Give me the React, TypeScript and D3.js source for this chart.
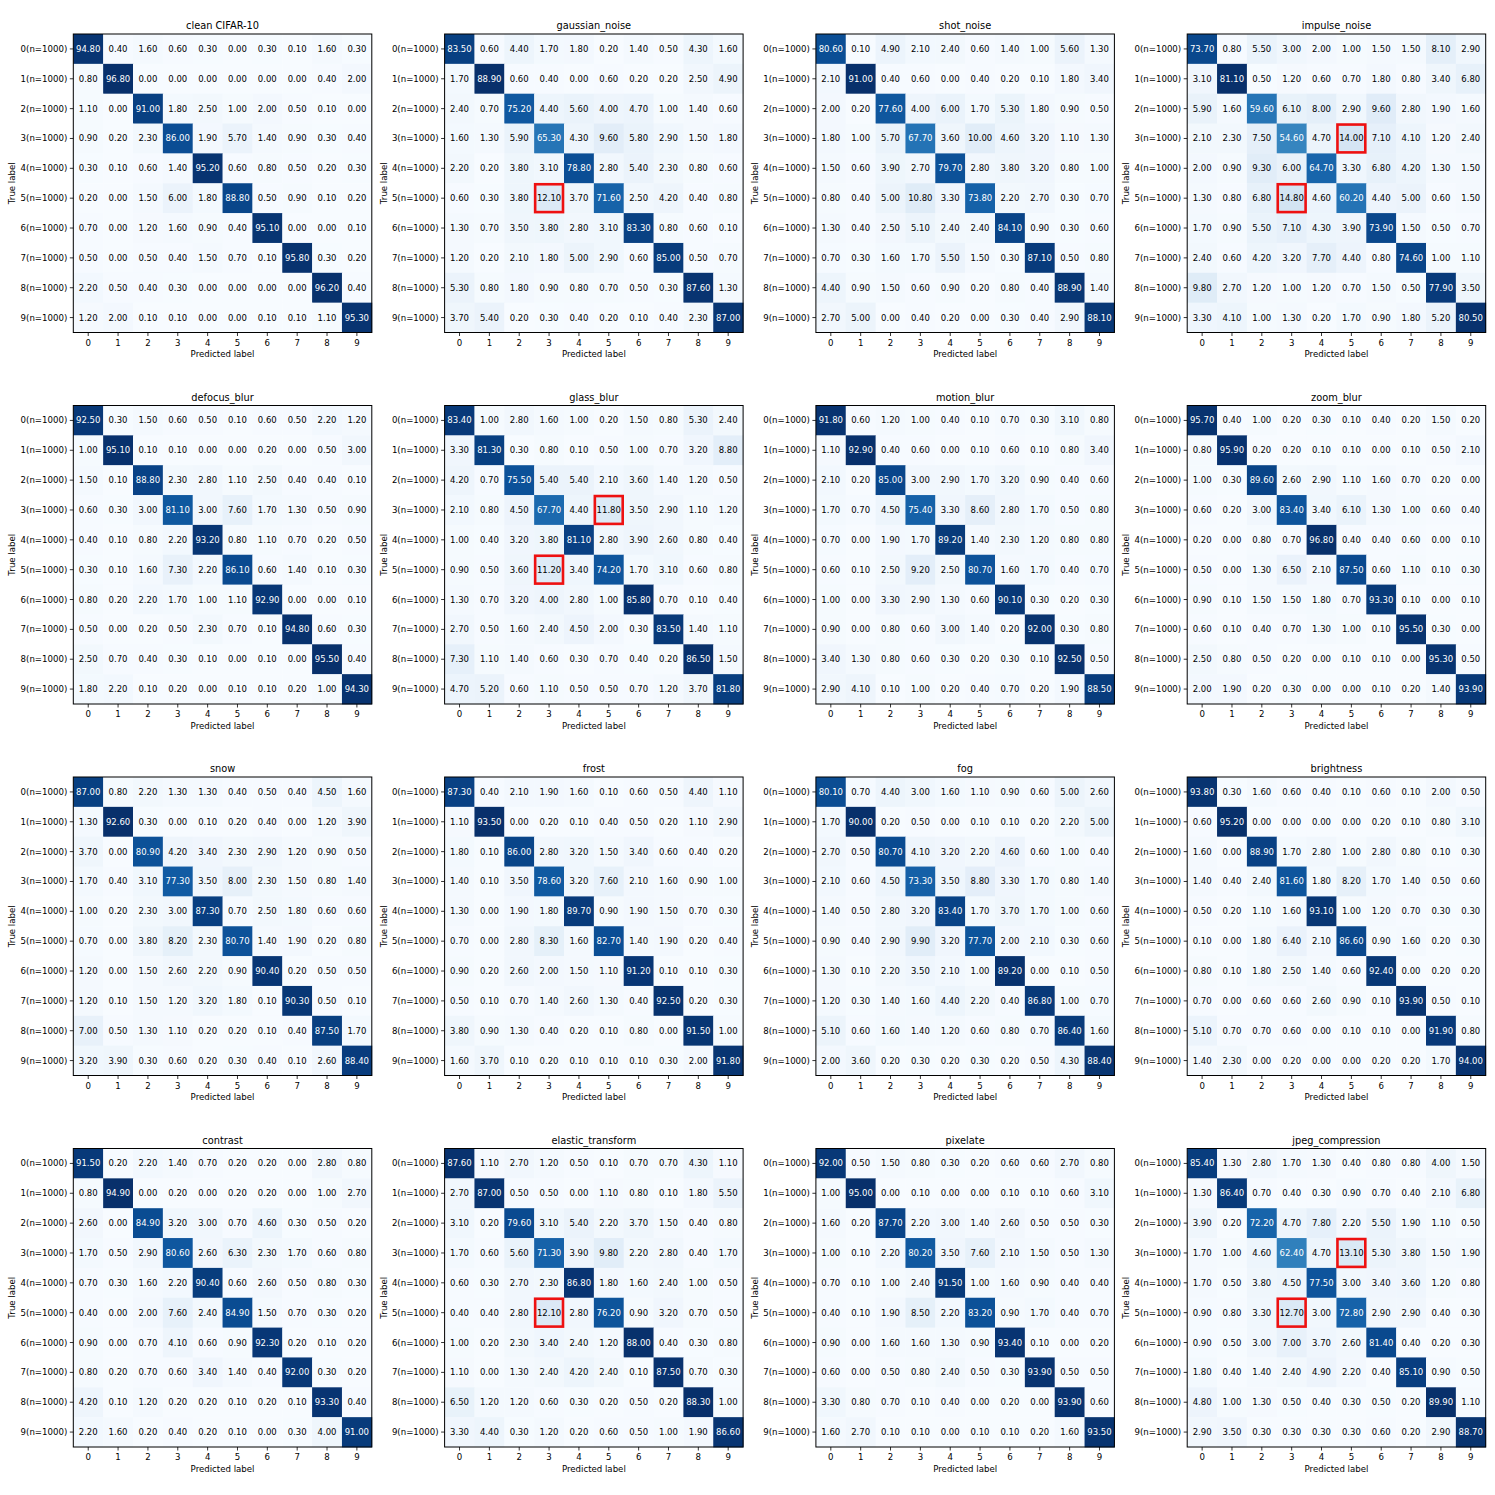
import * as d3 from "d3";

// ---- data: per-class accuracy (%) confusion matrices, rows = true label ----
const classes = ["0", "1", "2", "3", "4", "5", "6", "7", "8", "9"];
const rowLabels = classes.map(c => `${c}(n=1000)`);

const cleanCifar10 = [
  [94.8, 0.4, 1.6, 0.6, 0.3, 0.0, 0.3, 0.1, 1.6, 0.3],
  [0.8, 96.8, 0.0, 0.0, 0.0, 0.0, 0.0, 0.0, 0.4, 2.0],
  [1.1, 0.0, 91.0, 1.8, 2.5, 1.0, 2.0, 0.5, 0.1, 0.0],
  [0.9, 0.2, 2.3, 86.0, 1.9, 5.7, 1.4, 0.9, 0.3, 0.4],
  [0.3, 0.1, 0.6, 1.4, 95.2, 0.6, 0.8, 0.5, 0.2, 0.3],
  [0.2, 0.0, 1.5, 6.0, 1.8, 88.8, 0.5, 0.9, 0.1, 0.2],
  [0.7, 0.0, 1.2, 1.6, 0.9, 0.4, 95.1, 0.0, 0.0, 0.1],
  [0.5, 0.0, 0.5, 0.4, 1.5, 0.7, 0.1, 95.8, 0.3, 0.2],
  [2.2, 0.5, 0.4, 0.3, 0.0, 0.0, 0.0, 0.0, 96.2, 0.4],
  [1.2, 2.0, 0.1, 0.1, 0.0, 0.0, 0.1, 0.1, 1.1, 95.3],
];
const gaussianNoise = [
  [83.5, 0.6, 4.4, 1.7, 1.8, 0.2, 1.4, 0.5, 4.3, 1.6],
  [1.7, 88.9, 0.6, 0.4, 0.0, 0.6, 0.2, 0.2, 2.5, 4.9],
  [2.4, 0.7, 75.2, 4.4, 5.6, 4.0, 4.7, 1.0, 1.4, 0.6],
  [1.6, 1.3, 5.9, 65.3, 4.3, 9.6, 5.8, 2.9, 1.5, 1.8],
  [2.2, 0.2, 3.8, 3.1, 78.8, 2.8, 5.4, 2.3, 0.8, 0.6],
  [0.6, 0.3, 3.8, 12.1, 3.7, 71.6, 2.5, 4.2, 0.4, 0.8],
  [1.3, 0.7, 3.5, 3.8, 2.8, 3.1, 83.3, 0.8, 0.6, 0.1],
  [1.2, 0.2, 2.1, 1.8, 5.0, 2.9, 0.6, 85.0, 0.5, 0.7],
  [5.3, 0.8, 1.8, 0.9, 0.8, 0.7, 0.5, 0.3, 87.6, 1.3],
  [3.7, 5.4, 0.2, 0.3, 0.4, 0.2, 0.1, 0.4, 2.3, 87.0],
];
const shotNoise = [
  [80.6, 0.1, 4.9, 2.1, 2.4, 0.6, 1.4, 1.0, 5.6, 1.3],
  [2.1, 91.0, 0.4, 0.6, 0.0, 0.4, 0.2, 0.1, 1.8, 3.4],
  [2.0, 0.2, 77.6, 4.0, 6.0, 1.7, 5.3, 1.8, 0.9, 0.5],
  [1.8, 1.0, 5.7, 67.7, 3.6, 10.0, 4.6, 3.2, 1.1, 1.3],
  [1.5, 0.6, 3.9, 2.7, 79.7, 2.8, 3.8, 3.2, 0.8, 1.0],
  [0.8, 0.4, 5.0, 10.8, 3.3, 73.8, 2.2, 2.7, 0.3, 0.7],
  [1.3, 0.4, 2.5, 5.1, 2.4, 2.4, 84.1, 0.9, 0.3, 0.6],
  [0.7, 0.3, 1.6, 1.7, 5.5, 1.5, 0.3, 87.1, 0.5, 0.8],
  [4.4, 0.9, 1.5, 0.6, 0.9, 0.2, 0.8, 0.4, 88.9, 1.4],
  [2.7, 5.0, 0.0, 0.4, 0.2, 0.0, 0.3, 0.4, 2.9, 88.1],
];
const impulseNoise = [
  [73.7, 0.8, 5.5, 3.0, 2.0, 1.0, 1.5, 1.5, 8.1, 2.9],
  [3.1, 81.1, 0.5, 1.2, 0.6, 0.7, 1.8, 0.8, 3.4, 6.8],
  [5.9, 1.6, 59.6, 6.1, 8.0, 2.9, 9.6, 2.8, 1.9, 1.6],
  [2.1, 2.3, 7.5, 54.6, 4.7, 14.0, 7.1, 4.1, 1.2, 2.4],
  [2.0, 0.9, 9.3, 6.0, 64.7, 3.3, 6.8, 4.2, 1.3, 1.5],
  [1.3, 0.8, 6.8, 14.8, 4.6, 60.2, 4.4, 5.0, 0.6, 1.5],
  [1.7, 0.9, 5.5, 7.1, 4.3, 3.9, 73.9, 1.5, 0.5, 0.7],
  [2.4, 0.6, 4.2, 3.2, 7.7, 4.4, 0.8, 74.6, 1.0, 1.1],
  [9.8, 2.7, 1.2, 1.0, 1.2, 0.7, 1.5, 0.5, 77.9, 3.5],
  [3.3, 4.1, 1.0, 1.3, 0.2, 1.7, 0.9, 1.8, 5.2, 80.5],
];
const defocusBlur = [
  [92.5, 0.3, 1.5, 0.6, 0.5, 0.1, 0.6, 0.5, 2.2, 1.2],
  [1.0, 95.1, 0.1, 0.1, 0.0, 0.0, 0.2, 0.0, 0.5, 3.0],
  [1.5, 0.1, 88.8, 2.3, 2.8, 1.1, 2.5, 0.4, 0.4, 0.1],
  [0.6, 0.3, 3.0, 81.1, 3.0, 7.6, 1.7, 1.3, 0.5, 0.9],
  [0.4, 0.1, 0.8, 2.2, 93.2, 0.8, 1.1, 0.7, 0.2, 0.5],
  [0.3, 0.1, 1.6, 7.3, 2.2, 86.1, 0.6, 1.4, 0.1, 0.3],
  [0.8, 0.2, 2.2, 1.7, 1.0, 1.1, 92.9, 0.0, 0.0, 0.1],
  [0.5, 0.0, 0.2, 0.5, 2.3, 0.7, 0.1, 94.8, 0.6, 0.3],
  [2.5, 0.7, 0.4, 0.3, 0.1, 0.0, 0.1, 0.0, 95.5, 0.4],
  [1.8, 2.2, 0.1, 0.2, 0.0, 0.1, 0.1, 0.2, 1.0, 94.3],
];
const glassBlur = [
  [83.4, 1.0, 2.8, 1.6, 1.0, 0.2, 1.5, 0.8, 5.3, 2.4],
  [3.3, 81.3, 0.3, 0.8, 0.1, 0.5, 1.0, 0.7, 3.2, 8.8],
  [4.2, 0.7, 75.5, 5.4, 5.4, 2.1, 3.6, 1.4, 1.2, 0.5],
  [2.1, 0.8, 4.5, 67.7, 4.4, 11.8, 3.5, 2.9, 1.1, 1.2],
  [1.0, 0.4, 3.2, 3.8, 81.1, 2.8, 3.9, 2.6, 0.8, 0.4],
  [0.9, 0.5, 3.6, 11.2, 3.4, 74.2, 1.7, 3.1, 0.6, 0.8],
  [1.3, 0.7, 3.2, 4.0, 2.8, 1.0, 85.8, 0.7, 0.1, 0.4],
  [2.7, 0.5, 1.6, 2.4, 4.5, 2.0, 0.3, 83.5, 1.4, 1.1],
  [7.3, 1.1, 1.4, 0.6, 0.3, 0.7, 0.4, 0.2, 86.5, 1.5],
  [4.7, 5.2, 0.6, 1.1, 0.5, 0.5, 0.7, 1.2, 3.7, 81.8],
];
const motionBlur = [
  [91.8, 0.6, 1.2, 1.0, 0.4, 0.1, 0.7, 0.3, 3.1, 0.8],
  [1.1, 92.9, 0.4, 0.6, 0.0, 0.1, 0.6, 0.1, 0.8, 3.4],
  [2.1, 0.2, 85.0, 3.0, 2.9, 1.7, 3.2, 0.9, 0.4, 0.6],
  [1.7, 0.7, 4.5, 75.4, 3.3, 8.6, 2.8, 1.7, 0.5, 0.8],
  [0.7, 0.0, 1.9, 1.7, 89.2, 1.4, 2.3, 1.2, 0.8, 0.8],
  [0.6, 0.1, 2.5, 9.2, 2.5, 80.7, 1.6, 1.7, 0.4, 0.7],
  [1.0, 0.0, 3.3, 2.9, 1.3, 0.6, 90.1, 0.3, 0.2, 0.3],
  [0.9, 0.0, 0.8, 0.6, 3.0, 1.4, 0.2, 92.0, 0.3, 0.8],
  [3.4, 1.3, 0.8, 0.6, 0.3, 0.2, 0.3, 0.1, 92.5, 0.5],
  [2.9, 4.1, 0.1, 1.0, 0.2, 0.4, 0.7, 0.2, 1.9, 88.5],
];
const zoomBlur = [
  [95.7, 0.4, 1.0, 0.2, 0.3, 0.1, 0.4, 0.2, 1.5, 0.2],
  [0.8, 95.9, 0.2, 0.2, 0.1, 0.1, 0.0, 0.1, 0.5, 2.1],
  [1.0, 0.3, 89.6, 2.6, 2.9, 1.1, 1.6, 0.7, 0.2, 0.0],
  [0.6, 0.2, 3.0, 83.4, 3.4, 6.1, 1.3, 1.0, 0.6, 0.4],
  [0.2, 0.0, 0.8, 0.7, 96.8, 0.4, 0.4, 0.6, 0.0, 0.1],
  [0.5, 0.0, 1.3, 6.5, 2.1, 87.5, 0.6, 1.1, 0.1, 0.3],
  [0.9, 0.1, 1.5, 1.5, 1.8, 0.7, 93.3, 0.1, 0.0, 0.1],
  [0.6, 0.1, 0.4, 0.7, 1.3, 1.0, 0.1, 95.5, 0.3, 0.0],
  [2.5, 0.8, 0.5, 0.2, 0.0, 0.1, 0.1, 0.0, 95.3, 0.5],
  [2.0, 1.9, 0.2, 0.3, 0.0, 0.0, 0.1, 0.2, 1.4, 93.9],
];
const snow = [
  [87.0, 0.8, 2.2, 1.3, 1.3, 0.4, 0.5, 0.4, 4.5, 1.6],
  [1.3, 92.6, 0.3, 0.0, 0.1, 0.2, 0.4, 0.0, 1.2, 3.9],
  [3.7, 0.0, 80.9, 4.2, 3.4, 2.3, 2.9, 1.2, 0.9, 0.5],
  [1.7, 0.4, 3.1, 77.3, 3.5, 8.0, 2.3, 1.5, 0.8, 1.4],
  [1.0, 0.2, 2.3, 3.0, 87.3, 0.7, 2.5, 1.8, 0.6, 0.6],
  [0.7, 0.0, 3.8, 8.2, 2.3, 80.7, 1.4, 1.9, 0.2, 0.8],
  [1.2, 0.0, 1.5, 2.6, 2.2, 0.9, 90.4, 0.2, 0.5, 0.5],
  [1.2, 0.1, 1.5, 1.2, 3.2, 1.8, 0.1, 90.3, 0.5, 0.1],
  [7.0, 0.5, 1.3, 1.1, 0.2, 0.2, 0.1, 0.4, 87.5, 1.7],
  [3.2, 3.9, 0.3, 0.6, 0.2, 0.3, 0.4, 0.1, 2.6, 88.4],
];
const frost = [
  [87.3, 0.4, 2.1, 1.9, 1.6, 0.1, 0.6, 0.5, 4.4, 1.1],
  [1.1, 93.5, 0.0, 0.2, 0.1, 0.4, 0.5, 0.2, 1.1, 2.9],
  [1.8, 0.1, 86.0, 2.8, 3.2, 1.5, 3.4, 0.6, 0.4, 0.2],
  [1.4, 0.1, 3.5, 78.6, 3.2, 7.6, 2.1, 1.6, 0.9, 1.0],
  [1.3, 0.0, 1.9, 1.8, 89.7, 0.9, 1.9, 1.5, 0.7, 0.3],
  [0.7, 0.0, 2.8, 8.3, 1.6, 82.7, 1.4, 1.9, 0.2, 0.4],
  [0.9, 0.2, 2.6, 2.0, 1.5, 1.1, 91.2, 0.1, 0.1, 0.3],
  [0.5, 0.1, 0.7, 1.4, 2.6, 1.3, 0.4, 92.5, 0.2, 0.3],
  [3.8, 0.9, 1.3, 0.4, 0.2, 0.1, 0.8, 0.0, 91.5, 1.0],
  [1.6, 3.7, 0.1, 0.2, 0.1, 0.1, 0.1, 0.3, 2.0, 91.8],
];
const fog = [
  [80.1, 0.7, 4.4, 3.0, 1.6, 1.1, 0.9, 0.6, 5.0, 2.6],
  [1.7, 90.0, 0.2, 0.5, 0.0, 0.1, 0.1, 0.2, 2.2, 5.0],
  [2.7, 0.5, 80.7, 4.1, 3.2, 2.2, 4.6, 0.6, 1.0, 0.4],
  [2.1, 0.6, 4.5, 73.3, 3.5, 8.8, 3.3, 1.7, 0.8, 1.4],
  [1.4, 0.5, 2.8, 3.2, 83.4, 1.7, 3.7, 1.7, 1.0, 0.6],
  [0.9, 0.4, 2.9, 9.9, 3.2, 77.7, 2.0, 2.1, 0.3, 0.6],
  [1.3, 0.1, 2.2, 3.5, 2.1, 1.0, 89.2, 0.0, 0.1, 0.5],
  [1.2, 0.3, 1.4, 1.6, 4.4, 2.2, 0.4, 86.8, 1.0, 0.7],
  [5.1, 0.6, 1.6, 1.4, 1.2, 0.6, 0.8, 0.7, 86.4, 1.6],
  [2.0, 3.6, 0.2, 0.3, 0.2, 0.3, 0.2, 0.5, 4.3, 88.4],
];
const brightness = [
  [93.8, 0.3, 1.6, 0.6, 0.4, 0.1, 0.6, 0.1, 2.0, 0.5],
  [0.6, 95.2, 0.0, 0.0, 0.0, 0.0, 0.2, 0.1, 0.8, 3.1],
  [1.6, 0.0, 88.9, 1.7, 2.8, 1.0, 2.8, 0.8, 0.1, 0.3],
  [1.4, 0.4, 2.4, 81.6, 1.8, 8.2, 1.7, 1.4, 0.5, 0.6],
  [0.5, 0.2, 1.1, 1.6, 93.1, 1.0, 1.2, 0.7, 0.3, 0.3],
  [0.1, 0.0, 1.8, 6.4, 2.1, 86.6, 0.9, 1.6, 0.2, 0.3],
  [0.8, 0.1, 1.8, 2.5, 1.4, 0.6, 92.4, 0.0, 0.2, 0.2],
  [0.7, 0.0, 0.6, 0.6, 2.6, 0.9, 0.1, 93.9, 0.5, 0.1],
  [5.1, 0.7, 0.7, 0.6, 0.0, 0.1, 0.1, 0.0, 91.9, 0.8],
  [1.4, 2.3, 0.0, 0.2, 0.0, 0.0, 0.2, 0.2, 1.7, 94.0],
];
const contrast = [
  [91.5, 0.2, 2.2, 1.4, 0.7, 0.2, 0.2, 0.0, 2.8, 0.8],
  [0.8, 94.9, 0.0, 0.2, 0.0, 0.2, 0.2, 0.0, 1.0, 2.7],
  [2.6, 0.0, 84.9, 3.2, 3.0, 0.7, 4.6, 0.3, 0.5, 0.2],
  [1.7, 0.5, 2.9, 80.6, 2.6, 6.3, 2.3, 1.7, 0.6, 0.8],
  [0.7, 0.3, 1.6, 2.2, 90.4, 0.6, 2.6, 0.5, 0.8, 0.3],
  [0.4, 0.0, 2.0, 7.6, 2.4, 84.9, 1.5, 0.7, 0.3, 0.2],
  [0.9, 0.0, 0.7, 4.1, 0.6, 0.9, 92.3, 0.2, 0.1, 0.2],
  [0.8, 0.2, 0.7, 0.6, 3.4, 1.4, 0.4, 92.0, 0.3, 0.2],
  [4.2, 0.1, 1.2, 0.2, 0.2, 0.1, 0.2, 0.1, 93.3, 0.4],
  [2.2, 1.6, 0.2, 0.4, 0.2, 0.1, 0.0, 0.3, 4.0, 91.0],
];
const elasticTransform = [
  [87.6, 1.1, 2.7, 1.2, 0.5, 0.1, 0.7, 0.7, 4.3, 1.1],
  [2.7, 87.0, 0.5, 0.5, 0.0, 1.1, 0.8, 0.1, 1.8, 5.5],
  [3.1, 0.2, 79.6, 3.1, 5.4, 2.2, 3.7, 1.5, 0.4, 0.8],
  [1.7, 0.6, 5.6, 71.3, 3.9, 9.8, 2.2, 2.8, 0.4, 1.7],
  [0.6, 0.3, 2.7, 2.3, 86.8, 1.8, 1.6, 2.4, 1.0, 0.5],
  [0.4, 0.4, 2.8, 12.1, 2.8, 76.2, 0.9, 3.2, 0.7, 0.5],
  [1.0, 0.2, 2.3, 3.4, 2.4, 1.2, 88.0, 0.4, 0.3, 0.8],
  [1.1, 0.0, 1.3, 2.4, 4.2, 2.4, 0.1, 87.5, 0.7, 0.3],
  [6.5, 1.2, 1.2, 0.6, 0.3, 0.2, 0.5, 0.2, 88.3, 1.0],
  [3.3, 4.4, 0.3, 1.2, 0.2, 0.6, 0.5, 1.0, 1.9, 86.6],
];
const pixelate = [
  [92.0, 0.5, 1.5, 0.8, 0.3, 0.2, 0.6, 0.6, 2.7, 0.8],
  [1.0, 95.0, 0.0, 0.1, 0.0, 0.0, 0.1, 0.1, 0.6, 3.1],
  [1.6, 0.2, 87.7, 2.2, 3.0, 1.4, 2.6, 0.5, 0.5, 0.3],
  [1.0, 0.1, 2.2, 80.2, 3.5, 7.6, 2.1, 1.5, 0.5, 1.3],
  [0.7, 0.1, 1.0, 2.4, 91.5, 1.0, 1.6, 0.9, 0.4, 0.4],
  [0.4, 0.1, 1.9, 8.5, 2.2, 83.2, 0.9, 1.7, 0.4, 0.7],
  [0.9, 0.0, 1.6, 1.6, 1.3, 0.9, 93.4, 0.1, 0.0, 0.2],
  [0.6, 0.0, 0.5, 0.8, 2.4, 0.5, 0.3, 93.9, 0.5, 0.5],
  [3.3, 0.8, 0.7, 0.1, 0.4, 0.0, 0.2, 0.0, 93.9, 0.6],
  [1.6, 2.7, 0.1, 0.1, 0.0, 0.1, 0.1, 0.2, 1.6, 93.5],
];
const jpegCompression = [
  [85.4, 1.3, 2.8, 1.7, 1.3, 0.4, 0.8, 0.8, 4.0, 1.5],
  [1.3, 86.4, 0.7, 0.4, 0.3, 0.9, 0.7, 0.4, 2.1, 6.8],
  [3.9, 0.2, 72.2, 4.7, 7.8, 2.2, 5.5, 1.9, 1.1, 0.5],
  [1.7, 1.0, 4.6, 62.4, 4.7, 13.1, 5.3, 3.8, 1.5, 1.9],
  [1.7, 0.5, 3.8, 4.5, 77.5, 3.0, 3.4, 3.6, 1.2, 0.8],
  [0.9, 0.8, 3.3, 12.7, 3.0, 72.8, 2.9, 2.9, 0.4, 0.3],
  [0.9, 0.5, 3.0, 7.0, 3.7, 2.6, 81.4, 0.4, 0.2, 0.3],
  [1.8, 0.4, 1.4, 2.4, 4.9, 2.2, 0.4, 85.1, 0.9, 0.5],
  [4.8, 1.0, 1.3, 0.5, 0.4, 0.3, 0.5, 0.2, 89.9, 1.1],
  [2.9, 3.5, 0.3, 0.3, 0.3, 0.3, 0.6, 0.2, 2.9, 88.7],
];

// cells outlined in red: [row, col]
const cat_dog = [[5, 3]];
const cat_dog_both = [[3, 5], [5, 3]];

const panels = [
  { title: "clean CIFAR-10", m: cleanCifar10, marks: [] },
  { title: "gaussian_noise", m: gaussianNoise, marks: cat_dog },
  { title: "shot_noise", m: shotNoise, marks: [] },
  { title: "impulse_noise", m: impulseNoise, marks: cat_dog_both },
  { title: "defocus_blur", m: defocusBlur, marks: [] },
  { title: "glass_blur", m: glassBlur, marks: cat_dog_both },
  { title: "motion_blur", m: motionBlur, marks: [] },
  { title: "zoom_blur", m: zoomBlur, marks: [] },
  { title: "snow", m: snow, marks: [] },
  { title: "frost", m: frost, marks: [] },
  { title: "fog", m: fog, marks: [] },
  { title: "brightness", m: brightness, marks: [] },
  { title: "contrast", m: contrast, marks: [] },
  { title: "elastic_transform", m: elasticTransform, marks: cat_dog },
  { title: "pixelate", m: pixelate, marks: [] },
  { title: "jpeg_compression", m: jpegCompression, marks: cat_dog_both },
];

const W = 1495;
const H = 1495;
const FONT = "DejaVu Sans";
const SIZE = 298.5;
const LEFT0 = 73.3;
const TOP0 = 34;
const STEP_X = 371.3;
const STEP_Y = 371.5;

function Matrix({ title, m, marks, x0, y0 }) {
  const x = d3.scaleBand().domain(classes).range([0, SIZE]);
  const y = d3.scaleBand().domain(classes).range([0, SIZE]);
  const flat = m.flat();
  const lo = d3.min(flat);
  const hi = d3.max(flat);
  const color = d3.scaleSequential(d3.interpolateBlues).domain([lo, hi]);
  const thresh = (lo + hi) / 2;
  const bw = x.bandwidth();

  return (
    <g transform={`translate(${x0},${y0})`}>
      <text x={SIZE / 2} y={-5} textAnchor="middle" fontSize={9.8} fill="#000">{title}</text>
      {m.map((row, i) =>
        row.map((v, j) => (
          <g key={`${i}-${j}`}>
            <rect x={x(classes[j])} y={y(classes[i])} width={bw + 0.4} height={bw + 0.4} fill={color(v)} />
            <text
              x={x(classes[j]) + bw / 2}
              y={y(classes[i]) + bw / 2}
              dy="0.35em"
              textAnchor="middle"
              fontSize={8.5}
              fill={v > thresh ? "#fff" : "#000"}
            >
              {v.toFixed(2)}
            </text>
          </g>
        ))
      )}
      {marks.map(([r, c]) => (
        <rect key={`m${r}${c}`} x={x(classes[c]) + 1} y={y(classes[r]) + 1} width={bw - 2} height={bw - 2}
          fill="none" stroke="#ee1111" strokeWidth={2.6} />
      ))}
      <rect x={0} y={0} width={SIZE} height={SIZE} fill="none" stroke="#000" strokeWidth={1} />
      {/* y axis */}
      {classes.map((c, i) => (
        <g key={`y${c}`} transform={`translate(0,${y(c) + bw / 2})`}>
          <line x1={-3.5} x2={0} stroke="#000" strokeWidth={0.8} />
          <text x={-6} dy="0.35em" textAnchor="end" fontSize={8.6} fill="#000">{rowLabels[i]}</text>
        </g>
      ))}
      {/* x axis */}
      {classes.map(c => (
        <g key={`x${c}`} transform={`translate(${x(c) + bw / 2},${SIZE})`}>
          <line y1={0} y2={3.5} stroke="#000" strokeWidth={0.8} />
          <text y={13} textAnchor="middle" fontSize={8.6} fill="#000">{c}</text>
        </g>
      ))}
      <text x={SIZE / 2} y={SIZE + 24.5} textAnchor="middle" fontSize={8.6} fill="#000">Predicted label</text>
      <text transform={`translate(${-58},${SIZE / 2}) rotate(-90)`} textAnchor="middle" fontSize={8.6} fill="#000">True label</text>
    </g>
  );
}

export default function App() {
  return (
    <svg width={W} height={H} style={{ position: "absolute", left: 0, top: 0, background: "#fff" }}
      fontFamily={FONT}>
      <rect width={W} height={H} fill="#fff" />
      {panels.map((p, k) => (
        <Matrix key={p.title} {...p} x0={LEFT0 + (k % 4) * STEP_X} y0={TOP0 + Math.floor(k / 4) * STEP_Y} />
      ))}
    </svg>
  );
}
